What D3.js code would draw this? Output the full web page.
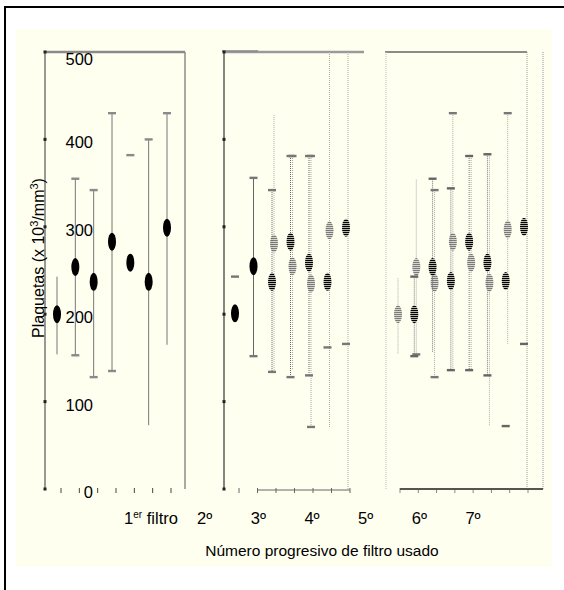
<!DOCTYPE html>
<html lang="es">
<head>
<meta charset="UTF-8">
<script src="https://d3js.org/d3.v7.min.js"></script>
<style>
  body { margin: 0; background: #fff; }
  text { font-family: "Liberation Sans", Arial, sans-serif; fill: #000; }
</style>
</head>
<body>
<script>
// y axis ticks and x categories
var yTicks = [0, 100, 200, 300, 400, 500];
var xLabels = ["1", "2º", "3º", "4º", "5º", "6º", "7º"];

// panel 1 (1er filtro) - solid marks
var p1Mean = [200, 254, 237, 283, 259, 237, 299];
var p1High = [243, 355, 342, 430, 382, 400, 430];
var p1Low  = [154, 153, 128, 135, null, 73, 165];
var p1Caps = ["", "hl", "hl", "hl", "h", "h", "h"];

// panel 2 - dark and light series
var p2DarkMean  = [201, 255, 237, 283, 259, 237, 299];
var p2DarkHigh  = [243, 356, 342, 381, 381, null, null];
var p2DarkLow   = [null, 152, 134, 128, 130, 162, 166];
var p2DarkCaps  = ["h", "hl", "hl", "hl", "hl", "l", "l"];
var p2LightMean = [null, null, 281, 255, 235, 296, null];
var p2LightHigh = [null, null, 428, 381, 381, 500, null];
var p2LightLow  = [null, null, 135, 136, 71, 71, null];
var p2LightCaps = ["", "", "", "h", "hl", "", ""];

// panel 3 - dark and light series
var p3DarkMean  = [null, 200, 254, 238, 283, 259, 238, 300];
var p3DarkHigh  = [null, 243, 355, 344, 381, 383, null, null];
var p3DarkLow   = [null, 152, 156, 136, 136, 130, 72, 166];
var p3DarkCaps  = ["", "hl", "h", "hl", "hl", "hl", "l", "l"];
var p3LightMean = [200, 254, 236, 283, 259, 236, 297, null];
var p3LightHigh = [241, 354, 342, 430, 381, 383, 430, null];
var p3LightLow  = [154, 154, 128, 136, 136, 72, 166, null];
var p3LightCaps = ["", "l", "hl", "h", "", "", "h", ""];

var svg = d3.select("body").append("svg")
    .attr("width", 564)
    .attr("height", 590);

var defs = svg.append("defs");
function stripes(id, color) {
    var p = defs.append("pattern").attr("id", id)
        .attr("patternUnits", "userSpaceOnUse")
        .attr("width", 6).attr("height", 2);
    p.append("rect").attr("width", 6).attr("height", 2).attr("fill", "#fffff0");
    p.append("rect").attr("width", 6).attr("height", 1.3).attr("fill", color);
}
stripes("darkStripe", "#000");
stripes("lightStripe", "#7a7a7a");

// outer frame and cream area
svg.append("rect").attr("x", 16).attr("y", 29).attr("width", 536).attr("height", 538).attr("fill", "#fffff0");
svg.append("line").attr("x1", 4).attr("x2", 564).attr("y1", 7).attr("y2", 7).attr("stroke", "#000").attr("stroke-width", 2);
svg.append("line").attr("x1", 5).attr("x2", 5).attr("y1", 6).attr("y2", 590).attr("stroke", "#000").attr("stroke-width", 2);

var y = d3.scaleLinear().domain([0, 500]).range([489, 52]);
var x1 = d3.scaleLinear().domain([1, 7]).range([57, 167]);
var x2 = d3.scaleLinear().domain([1, 7]).range([235, 346]);
var x3 = d3.scaleLinear().domain([1, 8]).range([396, 524]);

function vline(x, y1, y2, color, w, dash) {
    svg.append("line").attr("x1", x).attr("x2", x).attr("y1", y1).attr("y2", y2)
        .attr("stroke", color).attr("stroke-width", w)
        .attr("stroke-dasharray", dash || null);
}
function hline(x1, x2, yy, color, w) {
    svg.append("line").attr("x1", x1).attr("x2", x2).attr("y1", yy).attr("y2", yy)
        .attr("stroke", color).attr("stroke-width", w);
}

// panel frames
vline(45, y(500), y(0), "#555", 1.2);
vline(185, y(500), y(0), "#555", 1);
hline(45, 185, y(500), "#8a8a8a", 2.5);

vline(224, y(500), y(0), "#444", 1.3);
hline(224, 364, y(500), "#9a9a9a", 2.5);
hline(222, 258, y(500) - 1, "#888", 1.5);
vline(348, y(500), y(0), "#aaa", 1, "1,1");

hline(385, 527, y(500), "#666", 1.3);
vline(386, y(500), y(0), "#bbb", 1, "1,1");
vline(527, y(500), y(0), "#999", 1, "1,1");
vline(543, y(500), y(0), "#bbb", 1.6, "1,1");

// small tick marks on the left axes
[45, 224].forEach(function(ax) {
    svg.selectAll(null).data(yTicks).enter().append("rect")
        .attr("x", ax - 1.5).attr("y", function(d) { return y(d) - 1.5; })
        .attr("width", 3).attr("height", 3).attr("fill", "#222");
});

// bottom ticks
function bottomTicks(scale, n, color) {
    svg.selectAll(null).data(d3.range(1, n + 1)).enter().append("line")
        .attr("x1", function(d) { return scale(d) + 4; })
        .attr("x2", function(d) { return scale(d) + 4; })
        .attr("y1", y(0) - 1).attr("y2", y(0) + 4)
        .attr("stroke", color).attr("stroke-width", 1);
}
bottomTicks(x1, 7, "#444");
bottomTicks(x2, 7, "#666");
bottomTicks(x3, 8, "#888");
hline(x2(2) + 4, x2(7) + 4, y(0) + 1, "#666", 1);
hline(x3(1) + 4, 543, y(0), "#555", 2);

// y tick labels
svg.selectAll(null).data(yTicks).enter().append("text")
    .attr("x", 93)
    .attr("y", function(d) { return d === 500 ? y(d) + 13 : y(d) + 9; })
    .attr("text-anchor", "end")
    .attr("font-size", 16.5)
    .text(function(d) { return d; });

// error bars + mean ellipses
function drawSeries(scale, off, mean, high, low, caps, opt) {
    mean.forEach(function(m, i) {
        var cx = scale(i + 1) + off;
        if (high[i] != null && low[i] != null) {
            var dash = typeof opt.dash === "function" ? opt.dash(i) : opt.dash;
            vline(cx, y(high[i]), y(low[i]), opt.line, opt.lw, dash);
        }
        var c = caps[i] || "";
        if (c.indexOf("h") >= 0 && high[i] != null) {
            svg.append("rect").attr("x", cx - 4).attr("y", y(high[i]) - 1.2)
                .attr("width", 8).attr("height", 2.4).attr("fill", opt.cap);
        }
        if (c.indexOf("l") >= 0 && low[i] != null) {
            svg.append("rect").attr("x", cx - 4).attr("y", y(low[i]) - 1.2)
                .attr("width", 8).attr("height", 2.4).attr("fill", opt.cap);
        }
        if (m != null) {
            svg.append("ellipse").attr("cx", cx).attr("cy", y(m))
                .attr("rx", 4).attr("ry", 9)
                .attr("fill", typeof opt.fill === "function" ? opt.fill(i) : opt.fill);
        }
    });
}

drawSeries(x1, 0, p1Mean, p1High, p1Low, p1Caps,
    { line: "#777", lw: 1, cap: "#8a8a8a", fill: "#000" });

drawSeries(x2, 2, p2LightMean, p2LightHigh, p2LightLow, p2LightCaps,
    { line: "#aaa", lw: 1, dash: "1,1", cap: "#777", fill: "url(#lightStripe)" });
drawSeries(x2, 0, p2DarkMean, p2DarkHigh, p2DarkLow, p2DarkCaps,
    { line: "#666", lw: 1,
      dash: function(i) { return i < 2 ? null : "1,1"; }, cap: "#777",
      fill: function(i) { return i < 2 ? "#000" : "url(#darkStripe)"; } });

drawSeries(x3, 2, p3LightMean, p3LightHigh, p3LightLow, p3LightCaps,
    { line: "#aaa", lw: 1, dash: "1,1", cap: "#777", fill: "url(#lightStripe)" });
drawSeries(x3, 0, p3DarkMean, p3DarkHigh, p3DarkLow, p3DarkCaps,
    { line: "#777", lw: 1, dash: "1,1", cap: "#666", fill: "url(#darkStripe)" });

// x category labels
var xl = d3.scalePoint().domain(xLabels).range([151, 473]);
var lab = svg.selectAll(null).data(xLabels).enter().append("text")
    .attr("x", function(d) { return xl(d); })
    .attr("y", 524)
    .attr("text-anchor", "middle")
    .attr("font-size", 16.5);
lab.each(function(d, i) {
    var t = d3.select(this);
    if (i === 0) {
        t.append("tspan").text("1");
        t.append("tspan").attr("font-size", 10).attr("dy", -6).text("er");
        t.append("tspan").attr("dy", 6).text(" filtro");
    } else {
        t.text(d);
    }
});

// axis titles
svg.append("text")
    .attr("x", 322).attr("y", 556)
    .attr("text-anchor", "middle")
    .attr("font-size", 15.5)
    .text("Número progresivo de filtro usado");

var yt = svg.append("text")
    .attr("transform", "translate(44,258) rotate(-90)")
    .attr("text-anchor", "middle")
    .attr("font-size", 16);
yt.append("tspan").text("Plaquetas (x 10");
yt.append("tspan").attr("font-size", 11).attr("dy", -6).text("3");
yt.append("tspan").attr("dy", 6).text("/mm");
yt.append("tspan").attr("font-size", 11).attr("dy", -6).text("3");
yt.append("tspan").attr("dy", 6).text(")");
</script>
</body>
</html>
